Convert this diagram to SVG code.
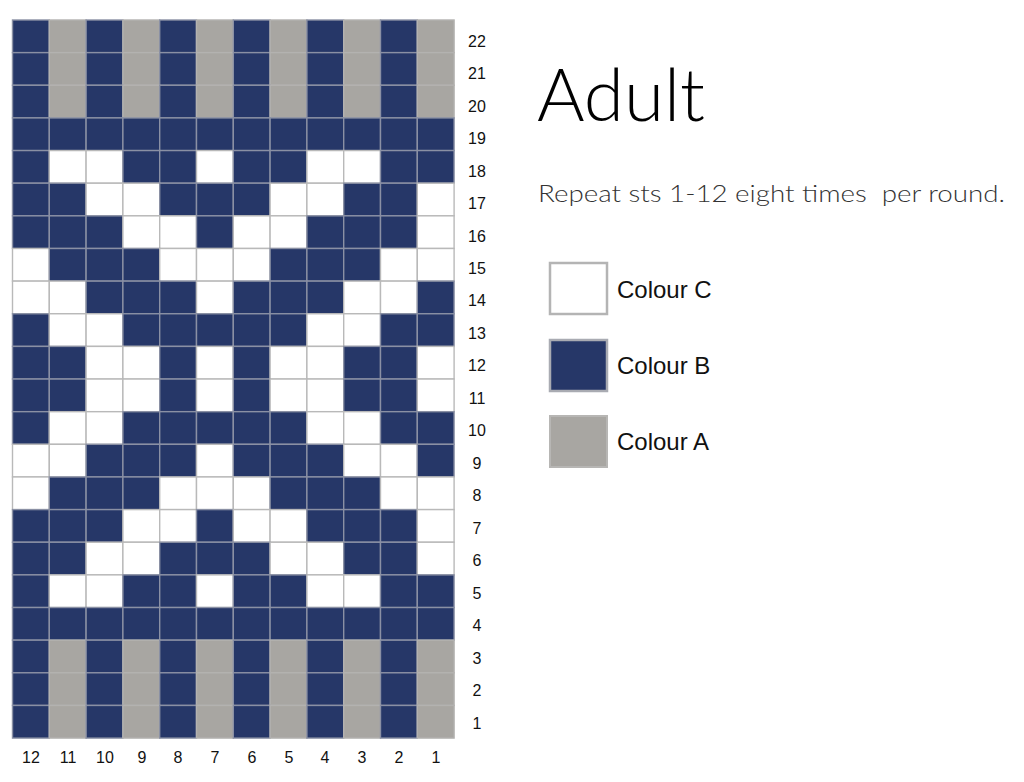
<svg xmlns="http://www.w3.org/2000/svg" width="1024" height="782" viewBox="0 0 1024 782">
<style>
.b{fill:#263768;stroke:#8a90a4;stroke-width:1.4}
.a{fill:#a8a6a2;stroke:#b3b2b0;stroke-width:1.4}
.c{fill:#ffffff;stroke:#b9b9b9;stroke-width:1.4}
.lbl{font-family:"Liberation Sans",Arial,sans-serif;font-size:16px;fill:#111;text-anchor:middle}
.leg{font-family:"Liberation Sans",Arial,sans-serif;font-size:24px;fill:#111}
</style>
<rect width="1024" height="782" fill="#fff"/>
<g id="chart">
<g id="row22">
<rect class="b" x="12.5" y="20" width="36.8" height="32.64"/><rect class="a" x="49.3" y="20" width="36.8" height="32.64"/><rect class="b" x="86.1" y="20" width="36.8" height="32.64"/><rect class="a" x="122.9" y="20" width="36.8" height="32.64"/><rect class="b" x="159.7" y="20" width="36.8" height="32.64"/><rect class="a" x="196.5" y="20" width="36.8" height="32.64"/><rect class="b" x="233.3" y="20" width="36.8" height="32.64"/><rect class="a" x="270.1" y="20" width="36.8" height="32.64"/><rect class="b" x="306.9" y="20" width="36.8" height="32.64"/><rect class="a" x="343.7" y="20" width="36.8" height="32.64"/><rect class="b" x="380.5" y="20" width="36.8" height="32.64"/><rect class="a" x="417.3" y="20" width="36.8" height="32.64"/>
</g>
<g id="row21">
<rect class="b" x="12.5" y="52.64" width="36.8" height="32.64"/><rect class="a" x="49.3" y="52.64" width="36.8" height="32.64"/><rect class="b" x="86.1" y="52.64" width="36.8" height="32.64"/><rect class="a" x="122.9" y="52.64" width="36.8" height="32.64"/><rect class="b" x="159.7" y="52.64" width="36.8" height="32.64"/><rect class="a" x="196.5" y="52.64" width="36.8" height="32.64"/><rect class="b" x="233.3" y="52.64" width="36.8" height="32.64"/><rect class="a" x="270.1" y="52.64" width="36.8" height="32.64"/><rect class="b" x="306.9" y="52.64" width="36.8" height="32.64"/><rect class="a" x="343.7" y="52.64" width="36.8" height="32.64"/><rect class="b" x="380.5" y="52.64" width="36.8" height="32.64"/><rect class="a" x="417.3" y="52.64" width="36.8" height="32.64"/>
</g>
<g id="row20">
<rect class="b" x="12.5" y="85.28" width="36.8" height="32.64"/><rect class="a" x="49.3" y="85.28" width="36.8" height="32.64"/><rect class="b" x="86.1" y="85.28" width="36.8" height="32.64"/><rect class="a" x="122.9" y="85.28" width="36.8" height="32.64"/><rect class="b" x="159.7" y="85.28" width="36.8" height="32.64"/><rect class="a" x="196.5" y="85.28" width="36.8" height="32.64"/><rect class="b" x="233.3" y="85.28" width="36.8" height="32.64"/><rect class="a" x="270.1" y="85.28" width="36.8" height="32.64"/><rect class="b" x="306.9" y="85.28" width="36.8" height="32.64"/><rect class="a" x="343.7" y="85.28" width="36.8" height="32.64"/><rect class="b" x="380.5" y="85.28" width="36.8" height="32.64"/><rect class="a" x="417.3" y="85.28" width="36.8" height="32.64"/>
</g>
<g id="row19">
<rect class="b" x="12.5" y="117.92" width="36.8" height="32.64"/><rect class="b" x="49.3" y="117.92" width="36.8" height="32.64"/><rect class="b" x="86.1" y="117.92" width="36.8" height="32.64"/><rect class="b" x="122.9" y="117.92" width="36.8" height="32.64"/><rect class="b" x="159.7" y="117.92" width="36.8" height="32.64"/><rect class="b" x="196.5" y="117.92" width="36.8" height="32.64"/><rect class="b" x="233.3" y="117.92" width="36.8" height="32.64"/><rect class="b" x="270.1" y="117.92" width="36.8" height="32.64"/><rect class="b" x="306.9" y="117.92" width="36.8" height="32.64"/><rect class="b" x="343.7" y="117.92" width="36.8" height="32.64"/><rect class="b" x="380.5" y="117.92" width="36.8" height="32.64"/><rect class="b" x="417.3" y="117.92" width="36.8" height="32.64"/>
</g>
<g id="row18">
<rect class="b" x="12.5" y="150.56" width="36.8" height="32.64"/><rect class="c" x="49.3" y="150.56" width="36.8" height="32.64"/><rect class="c" x="86.1" y="150.56" width="36.8" height="32.64"/><rect class="b" x="122.9" y="150.56" width="36.8" height="32.64"/><rect class="b" x="159.7" y="150.56" width="36.8" height="32.64"/><rect class="c" x="196.5" y="150.56" width="36.8" height="32.64"/><rect class="b" x="233.3" y="150.56" width="36.8" height="32.64"/><rect class="b" x="270.1" y="150.56" width="36.8" height="32.64"/><rect class="c" x="306.9" y="150.56" width="36.8" height="32.64"/><rect class="c" x="343.7" y="150.56" width="36.8" height="32.64"/><rect class="b" x="380.5" y="150.56" width="36.8" height="32.64"/><rect class="b" x="417.3" y="150.56" width="36.8" height="32.64"/>
</g>
<g id="row17">
<rect class="b" x="12.5" y="183.2" width="36.8" height="32.64"/><rect class="b" x="49.3" y="183.2" width="36.8" height="32.64"/><rect class="c" x="86.1" y="183.2" width="36.8" height="32.64"/><rect class="c" x="122.9" y="183.2" width="36.8" height="32.64"/><rect class="b" x="159.7" y="183.2" width="36.8" height="32.64"/><rect class="b" x="196.5" y="183.2" width="36.8" height="32.64"/><rect class="b" x="233.3" y="183.2" width="36.8" height="32.64"/><rect class="c" x="270.1" y="183.2" width="36.8" height="32.64"/><rect class="c" x="306.9" y="183.2" width="36.8" height="32.64"/><rect class="b" x="343.7" y="183.2" width="36.8" height="32.64"/><rect class="b" x="380.5" y="183.2" width="36.8" height="32.64"/><rect class="c" x="417.3" y="183.2" width="36.8" height="32.64"/>
</g>
<g id="row16">
<rect class="b" x="12.5" y="215.84" width="36.8" height="32.64"/><rect class="b" x="49.3" y="215.84" width="36.8" height="32.64"/><rect class="b" x="86.1" y="215.84" width="36.8" height="32.64"/><rect class="c" x="122.9" y="215.84" width="36.8" height="32.64"/><rect class="c" x="159.7" y="215.84" width="36.8" height="32.64"/><rect class="b" x="196.5" y="215.84" width="36.8" height="32.64"/><rect class="c" x="233.3" y="215.84" width="36.8" height="32.64"/><rect class="c" x="270.1" y="215.84" width="36.8" height="32.64"/><rect class="b" x="306.9" y="215.84" width="36.8" height="32.64"/><rect class="b" x="343.7" y="215.84" width="36.8" height="32.64"/><rect class="b" x="380.5" y="215.84" width="36.8" height="32.64"/><rect class="c" x="417.3" y="215.84" width="36.8" height="32.64"/>
</g>
<g id="row15">
<rect class="c" x="12.5" y="248.48" width="36.8" height="32.64"/><rect class="b" x="49.3" y="248.48" width="36.8" height="32.64"/><rect class="b" x="86.1" y="248.48" width="36.8" height="32.64"/><rect class="b" x="122.9" y="248.48" width="36.8" height="32.64"/><rect class="c" x="159.7" y="248.48" width="36.8" height="32.64"/><rect class="c" x="196.5" y="248.48" width="36.8" height="32.64"/><rect class="c" x="233.3" y="248.48" width="36.8" height="32.64"/><rect class="b" x="270.1" y="248.48" width="36.8" height="32.64"/><rect class="b" x="306.9" y="248.48" width="36.8" height="32.64"/><rect class="b" x="343.7" y="248.48" width="36.8" height="32.64"/><rect class="c" x="380.5" y="248.48" width="36.8" height="32.64"/><rect class="c" x="417.3" y="248.48" width="36.8" height="32.64"/>
</g>
<g id="row14">
<rect class="c" x="12.5" y="281.12" width="36.8" height="32.64"/><rect class="c" x="49.3" y="281.12" width="36.8" height="32.64"/><rect class="b" x="86.1" y="281.12" width="36.8" height="32.64"/><rect class="b" x="122.9" y="281.12" width="36.8" height="32.64"/><rect class="b" x="159.7" y="281.12" width="36.8" height="32.64"/><rect class="c" x="196.5" y="281.12" width="36.8" height="32.64"/><rect class="b" x="233.3" y="281.12" width="36.8" height="32.64"/><rect class="b" x="270.1" y="281.12" width="36.8" height="32.64"/><rect class="b" x="306.9" y="281.12" width="36.8" height="32.64"/><rect class="c" x="343.7" y="281.12" width="36.8" height="32.64"/><rect class="c" x="380.5" y="281.12" width="36.8" height="32.64"/><rect class="b" x="417.3" y="281.12" width="36.8" height="32.64"/>
</g>
<g id="row13">
<rect class="b" x="12.5" y="313.76" width="36.8" height="32.64"/><rect class="c" x="49.3" y="313.76" width="36.8" height="32.64"/><rect class="c" x="86.1" y="313.76" width="36.8" height="32.64"/><rect class="b" x="122.9" y="313.76" width="36.8" height="32.64"/><rect class="b" x="159.7" y="313.76" width="36.8" height="32.64"/><rect class="b" x="196.5" y="313.76" width="36.8" height="32.64"/><rect class="b" x="233.3" y="313.76" width="36.8" height="32.64"/><rect class="b" x="270.1" y="313.76" width="36.8" height="32.64"/><rect class="c" x="306.9" y="313.76" width="36.8" height="32.64"/><rect class="c" x="343.7" y="313.76" width="36.8" height="32.64"/><rect class="b" x="380.5" y="313.76" width="36.8" height="32.64"/><rect class="b" x="417.3" y="313.76" width="36.8" height="32.64"/>
</g>
<g id="row12">
<rect class="b" x="12.5" y="346.4" width="36.8" height="32.64"/><rect class="b" x="49.3" y="346.4" width="36.8" height="32.64"/><rect class="c" x="86.1" y="346.4" width="36.8" height="32.64"/><rect class="c" x="122.9" y="346.4" width="36.8" height="32.64"/><rect class="b" x="159.7" y="346.4" width="36.8" height="32.64"/><rect class="c" x="196.5" y="346.4" width="36.8" height="32.64"/><rect class="b" x="233.3" y="346.4" width="36.8" height="32.64"/><rect class="c" x="270.1" y="346.4" width="36.8" height="32.64"/><rect class="c" x="306.9" y="346.4" width="36.8" height="32.64"/><rect class="b" x="343.7" y="346.4" width="36.8" height="32.64"/><rect class="b" x="380.5" y="346.4" width="36.8" height="32.64"/><rect class="c" x="417.3" y="346.4" width="36.8" height="32.64"/>
</g>
<g id="row11">
<rect class="b" x="12.5" y="379.04" width="36.8" height="32.64"/><rect class="b" x="49.3" y="379.04" width="36.8" height="32.64"/><rect class="c" x="86.1" y="379.04" width="36.8" height="32.64"/><rect class="c" x="122.9" y="379.04" width="36.8" height="32.64"/><rect class="b" x="159.7" y="379.04" width="36.8" height="32.64"/><rect class="c" x="196.5" y="379.04" width="36.8" height="32.64"/><rect class="b" x="233.3" y="379.04" width="36.8" height="32.64"/><rect class="c" x="270.1" y="379.04" width="36.8" height="32.64"/><rect class="c" x="306.9" y="379.04" width="36.8" height="32.64"/><rect class="b" x="343.7" y="379.04" width="36.8" height="32.64"/><rect class="b" x="380.5" y="379.04" width="36.8" height="32.64"/><rect class="c" x="417.3" y="379.04" width="36.8" height="32.64"/>
</g>
<g id="row10">
<rect class="b" x="12.5" y="411.68" width="36.8" height="32.64"/><rect class="c" x="49.3" y="411.68" width="36.8" height="32.64"/><rect class="c" x="86.1" y="411.68" width="36.8" height="32.64"/><rect class="b" x="122.9" y="411.68" width="36.8" height="32.64"/><rect class="b" x="159.7" y="411.68" width="36.8" height="32.64"/><rect class="b" x="196.5" y="411.68" width="36.8" height="32.64"/><rect class="b" x="233.3" y="411.68" width="36.8" height="32.64"/><rect class="b" x="270.1" y="411.68" width="36.8" height="32.64"/><rect class="c" x="306.9" y="411.68" width="36.8" height="32.64"/><rect class="c" x="343.7" y="411.68" width="36.8" height="32.64"/><rect class="b" x="380.5" y="411.68" width="36.8" height="32.64"/><rect class="b" x="417.3" y="411.68" width="36.8" height="32.64"/>
</g>
<g id="row9">
<rect class="c" x="12.5" y="444.32" width="36.8" height="32.64"/><rect class="c" x="49.3" y="444.32" width="36.8" height="32.64"/><rect class="b" x="86.1" y="444.32" width="36.8" height="32.64"/><rect class="b" x="122.9" y="444.32" width="36.8" height="32.64"/><rect class="b" x="159.7" y="444.32" width="36.8" height="32.64"/><rect class="c" x="196.5" y="444.32" width="36.8" height="32.64"/><rect class="b" x="233.3" y="444.32" width="36.8" height="32.64"/><rect class="b" x="270.1" y="444.32" width="36.8" height="32.64"/><rect class="b" x="306.9" y="444.32" width="36.8" height="32.64"/><rect class="c" x="343.7" y="444.32" width="36.8" height="32.64"/><rect class="c" x="380.5" y="444.32" width="36.8" height="32.64"/><rect class="b" x="417.3" y="444.32" width="36.8" height="32.64"/>
</g>
<g id="row8">
<rect class="c" x="12.5" y="476.96" width="36.8" height="32.64"/><rect class="b" x="49.3" y="476.96" width="36.8" height="32.64"/><rect class="b" x="86.1" y="476.96" width="36.8" height="32.64"/><rect class="b" x="122.9" y="476.96" width="36.8" height="32.64"/><rect class="c" x="159.7" y="476.96" width="36.8" height="32.64"/><rect class="c" x="196.5" y="476.96" width="36.8" height="32.64"/><rect class="c" x="233.3" y="476.96" width="36.8" height="32.64"/><rect class="b" x="270.1" y="476.96" width="36.8" height="32.64"/><rect class="b" x="306.9" y="476.96" width="36.8" height="32.64"/><rect class="b" x="343.7" y="476.96" width="36.8" height="32.64"/><rect class="c" x="380.5" y="476.96" width="36.8" height="32.64"/><rect class="c" x="417.3" y="476.96" width="36.8" height="32.64"/>
</g>
<g id="row7">
<rect class="b" x="12.5" y="509.6" width="36.8" height="32.64"/><rect class="b" x="49.3" y="509.6" width="36.8" height="32.64"/><rect class="b" x="86.1" y="509.6" width="36.8" height="32.64"/><rect class="c" x="122.9" y="509.6" width="36.8" height="32.64"/><rect class="c" x="159.7" y="509.6" width="36.8" height="32.64"/><rect class="b" x="196.5" y="509.6" width="36.8" height="32.64"/><rect class="c" x="233.3" y="509.6" width="36.8" height="32.64"/><rect class="c" x="270.1" y="509.6" width="36.8" height="32.64"/><rect class="b" x="306.9" y="509.6" width="36.8" height="32.64"/><rect class="b" x="343.7" y="509.6" width="36.8" height="32.64"/><rect class="b" x="380.5" y="509.6" width="36.8" height="32.64"/><rect class="c" x="417.3" y="509.6" width="36.8" height="32.64"/>
</g>
<g id="row6">
<rect class="b" x="12.5" y="542.24" width="36.8" height="32.64"/><rect class="b" x="49.3" y="542.24" width="36.8" height="32.64"/><rect class="c" x="86.1" y="542.24" width="36.8" height="32.64"/><rect class="c" x="122.9" y="542.24" width="36.8" height="32.64"/><rect class="b" x="159.7" y="542.24" width="36.8" height="32.64"/><rect class="b" x="196.5" y="542.24" width="36.8" height="32.64"/><rect class="b" x="233.3" y="542.24" width="36.8" height="32.64"/><rect class="c" x="270.1" y="542.24" width="36.8" height="32.64"/><rect class="c" x="306.9" y="542.24" width="36.8" height="32.64"/><rect class="b" x="343.7" y="542.24" width="36.8" height="32.64"/><rect class="b" x="380.5" y="542.24" width="36.8" height="32.64"/><rect class="c" x="417.3" y="542.24" width="36.8" height="32.64"/>
</g>
<g id="row5">
<rect class="b" x="12.5" y="574.88" width="36.8" height="32.64"/><rect class="c" x="49.3" y="574.88" width="36.8" height="32.64"/><rect class="c" x="86.1" y="574.88" width="36.8" height="32.64"/><rect class="b" x="122.9" y="574.88" width="36.8" height="32.64"/><rect class="b" x="159.7" y="574.88" width="36.8" height="32.64"/><rect class="c" x="196.5" y="574.88" width="36.8" height="32.64"/><rect class="b" x="233.3" y="574.88" width="36.8" height="32.64"/><rect class="b" x="270.1" y="574.88" width="36.8" height="32.64"/><rect class="c" x="306.9" y="574.88" width="36.8" height="32.64"/><rect class="c" x="343.7" y="574.88" width="36.8" height="32.64"/><rect class="b" x="380.5" y="574.88" width="36.8" height="32.64"/><rect class="b" x="417.3" y="574.88" width="36.8" height="32.64"/>
</g>
<g id="row4">
<rect class="b" x="12.5" y="607.52" width="36.8" height="32.64"/><rect class="b" x="49.3" y="607.52" width="36.8" height="32.64"/><rect class="b" x="86.1" y="607.52" width="36.8" height="32.64"/><rect class="b" x="122.9" y="607.52" width="36.8" height="32.64"/><rect class="b" x="159.7" y="607.52" width="36.8" height="32.64"/><rect class="b" x="196.5" y="607.52" width="36.8" height="32.64"/><rect class="b" x="233.3" y="607.52" width="36.8" height="32.64"/><rect class="b" x="270.1" y="607.52" width="36.8" height="32.64"/><rect class="b" x="306.9" y="607.52" width="36.8" height="32.64"/><rect class="b" x="343.7" y="607.52" width="36.8" height="32.64"/><rect class="b" x="380.5" y="607.52" width="36.8" height="32.64"/><rect class="b" x="417.3" y="607.52" width="36.8" height="32.64"/>
</g>
<g id="row3">
<rect class="b" x="12.5" y="640.16" width="36.8" height="32.64"/><rect class="a" x="49.3" y="640.16" width="36.8" height="32.64"/><rect class="b" x="86.1" y="640.16" width="36.8" height="32.64"/><rect class="a" x="122.9" y="640.16" width="36.8" height="32.64"/><rect class="b" x="159.7" y="640.16" width="36.8" height="32.64"/><rect class="a" x="196.5" y="640.16" width="36.8" height="32.64"/><rect class="b" x="233.3" y="640.16" width="36.8" height="32.64"/><rect class="a" x="270.1" y="640.16" width="36.8" height="32.64"/><rect class="b" x="306.9" y="640.16" width="36.8" height="32.64"/><rect class="a" x="343.7" y="640.16" width="36.8" height="32.64"/><rect class="b" x="380.5" y="640.16" width="36.8" height="32.64"/><rect class="a" x="417.3" y="640.16" width="36.8" height="32.64"/>
</g>
<g id="row2">
<rect class="b" x="12.5" y="672.8" width="36.8" height="32.64"/><rect class="a" x="49.3" y="672.8" width="36.8" height="32.64"/><rect class="b" x="86.1" y="672.8" width="36.8" height="32.64"/><rect class="a" x="122.9" y="672.8" width="36.8" height="32.64"/><rect class="b" x="159.7" y="672.8" width="36.8" height="32.64"/><rect class="a" x="196.5" y="672.8" width="36.8" height="32.64"/><rect class="b" x="233.3" y="672.8" width="36.8" height="32.64"/><rect class="a" x="270.1" y="672.8" width="36.8" height="32.64"/><rect class="b" x="306.9" y="672.8" width="36.8" height="32.64"/><rect class="a" x="343.7" y="672.8" width="36.8" height="32.64"/><rect class="b" x="380.5" y="672.8" width="36.8" height="32.64"/><rect class="a" x="417.3" y="672.8" width="36.8" height="32.64"/>
</g>
<g id="row1">
<rect class="b" x="12.5" y="705.44" width="36.8" height="32.64"/><rect class="a" x="49.3" y="705.44" width="36.8" height="32.64"/><rect class="b" x="86.1" y="705.44" width="36.8" height="32.64"/><rect class="a" x="122.9" y="705.44" width="36.8" height="32.64"/><rect class="b" x="159.7" y="705.44" width="36.8" height="32.64"/><rect class="a" x="196.5" y="705.44" width="36.8" height="32.64"/><rect class="b" x="233.3" y="705.44" width="36.8" height="32.64"/><rect class="a" x="270.1" y="705.44" width="36.8" height="32.64"/><rect class="b" x="306.9" y="705.44" width="36.8" height="32.64"/><rect class="a" x="343.7" y="705.44" width="36.8" height="32.64"/><rect class="b" x="380.5" y="705.44" width="36.8" height="32.64"/><rect class="a" x="417.3" y="705.44" width="36.8" height="32.64"/>
</g>
</g>
<g id="row-labels" class="lbl">
<text x="477" y="46.5">22</text><text x="477" y="79">21</text><text x="477" y="111.5">20</text><text x="477" y="144">19</text><text x="477" y="176.5">18</text><text x="477" y="209">17</text><text x="477" y="241.5">16</text><text x="477" y="274">15</text><text x="477" y="306">14</text><text x="477" y="338.5">13</text><text x="477" y="371">12</text><text x="477" y="403.5">11</text><text x="477" y="436">10</text><text x="477" y="468.5">9</text><text x="477" y="501">8</text><text x="477" y="533.5">7</text><text x="477" y="566">6</text><text x="477" y="598.5">5</text><text x="477" y="631">4</text><text x="477" y="663.5">3</text><text x="477" y="696">2</text><text x="477" y="728.5">1</text>
</g>
<g id="col-labels" class="lbl">
<text x="31" y="763">12</text><text x="68" y="763">11</text><text x="105" y="763">10</text><text x="142" y="763">9</text><text x="178" y="763">8</text><text x="215" y="763">7</text><text x="252" y="763">6</text><text x="289" y="763">5</text><text x="325" y="763">4</text><text x="362" y="763">3</text><text x="399" y="763">2</text><text x="436" y="763">1</text>
</g>
<g id="title">
<text x="537" y="121" font-family="Lato, 'Noto Sans', sans-serif" font-weight="300" font-size="72" fill="#000" textLength="168" lengthAdjust="spacingAndGlyphs">Adult</text>
</g>
<g id="subtitle">
<text x="538" y="202" font-family="Lato, 'Noto Sans', sans-serif" font-weight="300" font-size="23" fill="#333" textLength="467" lengthAdjust="spacingAndGlyphs" xml:space="preserve">Repeat sts 1-12 eight times  per round.</text>
</g>
<g id="legend-c">
<rect x="550" y="263" width="57" height="51" fill="#fff" stroke="#b4b4b4" stroke-width="2.5"/>
<text class="leg" x="617" y="298">Colour C</text>
</g>
<g id="legend-b">
<rect x="550" y="340" width="57" height="51" fill="#263768" stroke="#a9abb2" stroke-width="2.5"/>
<text class="leg" x="617" y="374">Colour B</text>
</g>
<g id="legend-a">
<rect x="550" y="416" width="57" height="51" fill="#a8a6a2" stroke="#b7b6b4" stroke-width="2"/>
<text class="leg" x="617" y="450">Colour A</text>
</g>
</svg>
